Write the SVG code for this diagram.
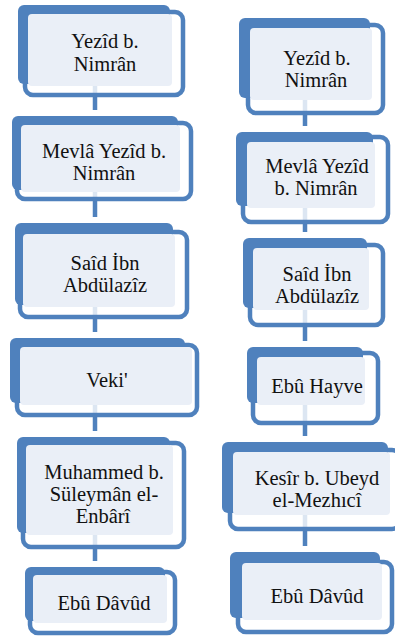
<svg xmlns="http://www.w3.org/2000/svg" width="395" height="639" viewBox="0 0 395 639">
<style>
.c{fill:#ffffff;fill-opacity:0.8;stroke:#4f81bd;stroke-width:4.5}
.a{fill:#4f81bd}
.b{fill:#eaeff7}
.t{font-family:'Liberation Serif','Times New Roman',Times,serif;font-size:20.5px;font-weight:normal;fill:#111;text-anchor:middle}
.k{stroke:#4f81bd;stroke-width:4.5;fill:none}
</style>
<rect width="395" height="639" fill="#ffffff"/>
<g id="connectors">
<line class="k" x1="95" y1="84" x2="95" y2="110"/>
<line class="k" x1="95" y1="190" x2="95" y2="217"/>
<line class="k" x1="95" y1="305" x2="95" y2="332"/>
<line class="k" x1="95" y1="403" x2="95" y2="431"/>
<line class="k" x1="95" y1="533" x2="95" y2="561"/>
<line class="k" x1="305" y1="98" x2="305" y2="126"/>
<line class="k" x1="305" y1="206" x2="305" y2="232"/>
<line class="k" x1="305" y1="308" x2="305" y2="341"/>
<line class="k" x1="305" y1="403" x2="305" y2="436"/>
<line class="k" x1="305" y1="513" x2="305" y2="546"/>
</g>
<g id="L1">
<rect class="c" x="25" y="12" width="158" height="83" rx="8"/>
<rect class="a" x="18" y="5" width="152" height="79" rx="6"/>
<rect class="b" x="28" y="14" width="144" height="72" rx="4"/>
<text class="t" x="105" y="48">Yezîd b.</text>
<text class="t" x="105" y="71">Nimrân</text>
</g>
<g id="L2">
<rect class="c" x="17" y="123" width="174" height="76" rx="8"/>
<rect class="a" x="12" y="116" width="166" height="74" rx="6"/>
<rect class="b" x="21" y="125" width="159" height="67" rx="4"/>
<text class="t" x="104" y="158">Mevlâ Yezîd b.</text>
<text class="t" x="104" y="180">Nimrân</text>
</g>
<g id="L3">
<rect class="c" x="20" y="232" width="167" height="85" rx="8"/>
<rect class="a" x="15" y="223" width="158" height="82" rx="6"/>
<rect class="b" x="23" y="234" width="152" height="73" rx="4"/>
<text class="t" x="105" y="270">Saîd İbn</text>
<text class="t" x="105" y="292">Abdülazîz</text>
</g>
<g id="L4">
<rect class="c" x="17" y="345" width="180" height="70" rx="8"/>
<rect class="a" x="10" y="338" width="175" height="65" rx="6"/>
<rect class="b" x="20" y="347" width="172" height="58" rx="4"/>
<text class="t" x="107" y="387">Veki'</text>
</g>
<g id="L5">
<rect class="c" x="23" y="443" width="161" height="104" rx="8"/>
<rect class="a" x="17" y="437" width="153" height="96" rx="6"/>
<rect class="b" x="26" y="445" width="147" height="90" rx="4"/>
<text class="t" x="104" y="479">Muhammed b.</text>
<text class="t" x="104" y="501">Süleymân el-</text>
<text class="t" x="103" y="523">Enbârî</text>
</g>
<g id="L6">
<rect class="c" x="30" y="572" width="145" height="61" rx="8"/>
<rect class="a" x="25" y="567" width="140" height="54" rx="6"/>
<rect class="b" x="33" y="575" width="134" height="48" rx="4"/>
<text class="t" x="104" y="610">Ebû Dâvûd</text>
</g>
<g id="R1">
<rect class="c" x="248" y="25" width="135" height="88" rx="8"/>
<rect class="a" x="239" y="18" width="131" height="80" rx="6"/>
<rect class="b" x="250" y="28" width="122" height="72" rx="4"/>
<text class="t" x="317" y="65">Yezîd b.</text>
<text class="t" x="316" y="87">Nimrân</text>
</g>
<g id="R2">
<rect class="c" x="243" y="137" width="145" height="85" rx="8"/>
<rect class="a" x="236" y="132" width="137" height="74" rx="6"/>
<rect class="b" x="247" y="142" width="128" height="66" rx="4"/>
<text class="t" x="317" y="173">Mevlâ Yezîd</text>
<text class="t" x="316" y="195">b. Nimrân</text>
</g>
<g id="R3">
<rect class="c" x="250" y="245" width="133" height="80" rx="8"/>
<rect class="a" x="243" y="238" width="124" height="70" rx="6"/>
<rect class="b" x="253" y="248" width="116" height="62" rx="4"/>
<text class="t" x="317" y="281">Saîd İbn</text>
<text class="t" x="317" y="303">Abdülazîz</text>
</g>
<g id="R4">
<rect class="c" x="253" y="353" width="125" height="70" rx="8"/>
<rect class="a" x="247" y="347" width="116" height="56" rx="6"/>
<rect class="b" x="257" y="357" width="108" height="48" rx="4"/>
<text class="t" x="317" y="393">Ebû Hayve</text>
</g>
<g id="R5">
<rect class="c" x="230" y="450" width="170" height="79" rx="8"/>
<rect class="a" x="222" y="442" width="166" height="71" rx="6"/>
<rect class="b" x="233" y="452" width="157" height="63" rx="4"/>
<text class="t" x="317" y="485">Kesîr b. Ubeyd</text>
<text class="t" x="317" y="507">el-Mezhıcî</text>
</g>
<g id="R6">
<rect class="c" x="238" y="562" width="154" height="70" rx="8"/>
<rect class="a" x="230" y="552" width="150" height="66" rx="6"/>
<rect class="b" x="242" y="563" width="140" height="57" rx="4"/>
<text class="t" x="317" y="603">Ebû Dâvûd</text>
</g>
</svg>
